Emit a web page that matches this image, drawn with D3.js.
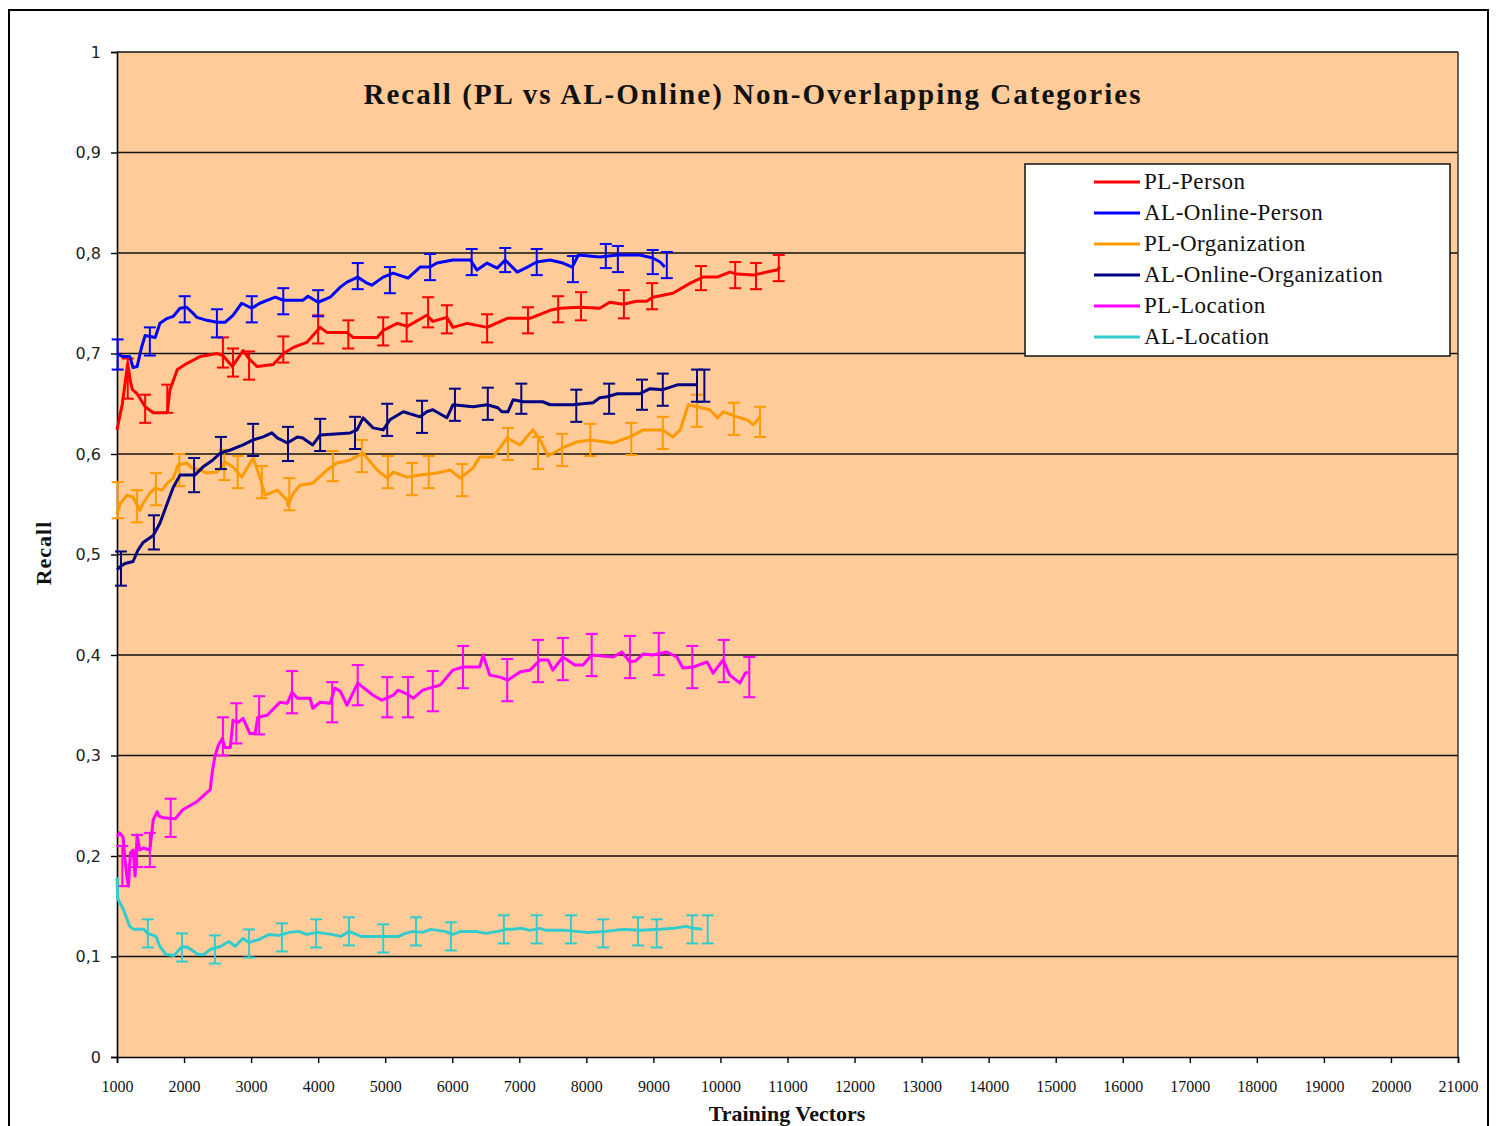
<!DOCTYPE html>
<html lang="en">
<head>
<meta charset="utf-8" />
<title>Recall (PL vs AL-Online) Non-Overlapping Categories</title>
<script src="https://cdn.jsdelivr.net/npm/d3@7"></script>
<style>
  body { margin: 0; background: #fff; }
  svg { display: block; }
  .ytick text { font-family: "DejaVu Sans", sans-serif; font-size: 16px; fill: #222; }
  .xtick text { font-family: "Liberation Serif", serif; font-size: 16px; fill: #111; }
</style>
</head>
<body>
<div id="chart"></div>
<script>
// tick values
var xTicks = d3.range(1000, 21001, 1000);
var yTicks = [0, 0.1, 0.2, 0.3, 0.4, 0.5, 0.6, 0.7, 0.8, 0.9, 1];

var seriesNames = ["PL-Person", "AL-Online-Person", "PL-Organization",
                   "AL-Online-Organization", "PL-Location", "AL-Location"];

// [training vectors, recall]
var plPerson = [[1000,0.624],[1080,0.650],[1160,0.690],[1200,0.672],[1230,0.664],[1300,0.660],[1420,0.647],[1540,0.641],[1750,0.641],[1790,0.664],[1900,0.684],[2040,0.690],[2240,0.697],[2490,0.700],[2580,0.698],[2720,0.687],[2880,0.703],[2980,0.694],[3090,0.687],[3330,0.689],[3480,0.700],[3630,0.706],[3830,0.711],[4030,0.726],[4130,0.721],[4430,0.721],[4520,0.716],[4880,0.716],[4970,0.723],[5180,0.730],[5330,0.727],[5620,0.738],[5710,0.732],[5920,0.736],[6010,0.726],[6220,0.730],[6520,0.726],[6820,0.735],[7160,0.735],[7460,0.743],[7610,0.745],[7900,0.746],[8200,0.745],[8350,0.751],[8550,0.749],[8750,0.752],[8900,0.752],[8990,0.756],[9290,0.760],[9550,0.770],[9740,0.776],[9950,0.776],[10140,0.781],[10250,0.779],[10490,0.778],[10690,0.781],[10840,0.783],[10890,0.786]];

var alPerson = [[1000,0.700],[1080,0.697],[1190,0.697],[1240,0.686],[1300,0.687],[1370,0.707],[1420,0.718],[1570,0.716],[1640,0.730],[1750,0.735],[1840,0.737],[1940,0.745],[2040,0.746],[2120,0.741],[2190,0.736],[2340,0.733],[2490,0.731],[2610,0.731],[2730,0.738],[2860,0.750],[3010,0.745],[3130,0.750],[3360,0.756],[3480,0.753],[3770,0.753],[3850,0.757],[4000,0.751],[4180,0.756],[4330,0.766],[4430,0.771],[4590,0.776],[4730,0.770],[4800,0.768],[4970,0.776],[5120,0.780],[5340,0.775],[5520,0.786],[5670,0.786],[5770,0.790],[6010,0.793],[6270,0.793],[6370,0.783],[6520,0.790],[6670,0.785],[6790,0.793],[6970,0.781],[7120,0.786],[7260,0.791],[7460,0.793],[7650,0.790],[7790,0.786],[7880,0.798],[8200,0.796],[8460,0.798],[8800,0.798],[8990,0.795],[9100,0.791],[9170,0.786]];

var plOrg = [[1000,0.541],[1050,0.551],[1150,0.559],[1240,0.557],[1340,0.544],[1390,0.551],[1490,0.561],[1570,0.566],[1670,0.564],[1750,0.571],[1840,0.576],[1910,0.589],[2040,0.591],[2120,0.586],[2240,0.584],[2340,0.581],[2490,0.582],[2610,0.592],[2730,0.587],[2860,0.577],[3030,0.596],[3130,0.577],[3210,0.559],[3390,0.564],[3540,0.554],[3550,0.549],[3630,0.561],[3730,0.569],[3920,0.571],[4130,0.584],[4280,0.591],[4480,0.594],[4670,0.601],[4880,0.584],[5030,0.576],[5120,0.582],[5330,0.577],[5520,0.579],[5770,0.581],[5970,0.584],[6120,0.576],[6310,0.586],[6410,0.597],[6610,0.597],[6820,0.616],[7010,0.609],[7200,0.624],[7310,0.614],[7430,0.598],[7640,0.606],[7860,0.612],[8060,0.614],[8400,0.611],[8650,0.617],[8850,0.624],[9140,0.624],[9290,0.617],[9400,0.624],[9520,0.649],[9650,0.647],[9840,0.644],[9960,0.636],[10040,0.642],[10250,0.637],[10400,0.634],[10490,0.629],[10590,0.637]];

var alOrg = [[1000,0.485],[1050,0.488],[1120,0.491],[1240,0.493],[1310,0.504],[1390,0.512],[1540,0.519],[1640,0.531],[1750,0.551],[1840,0.567],[1940,0.579],[2160,0.579],[2280,0.587],[2430,0.594],[2540,0.601],[2690,0.604],[2880,0.609],[3030,0.614],[3180,0.617],[3310,0.621],[3390,0.616],[3540,0.611],[3690,0.617],[3770,0.616],[3920,0.609],[4030,0.619],[4480,0.621],[4580,0.624],[4670,0.636],[4820,0.626],[4970,0.624],[5070,0.634],[5270,0.642],[5520,0.637],[5620,0.642],[5710,0.644],[5920,0.636],[6010,0.649],[6310,0.647],[6520,0.649],[6680,0.646],[6740,0.642],[6830,0.642],[6910,0.654],[7060,0.652],[7350,0.652],[7460,0.649],[7800,0.649],[8100,0.651],[8200,0.656],[8310,0.657],[8460,0.660],[8800,0.660],[8950,0.665],[9140,0.664],[9370,0.669],[9650,0.669]];

var plLoc = [[1000,0.219],[1040,0.223],[1090,0.219],[1120,0.196],[1150,0.178],[1170,0.170],[1200,0.203],[1240,0.206],[1270,0.180],[1300,0.221],[1340,0.206],[1390,0.208],[1490,0.206],[1540,0.236],[1600,0.244],[1620,0.240],[1690,0.238],[1870,0.237],[1980,0.246],[2190,0.254],[2340,0.263],[2390,0.266],[2420,0.283],[2460,0.299],[2510,0.310],[2570,0.317],[2610,0.308],[2690,0.308],[2730,0.335],[2810,0.333],[2880,0.337],[2980,0.322],[3060,0.322],[3100,0.338],[3240,0.340],[3430,0.353],[3540,0.352],[3610,0.363],[3690,0.357],[3880,0.357],[3920,0.347],[4030,0.353],[4180,0.352],[4250,0.367],[4330,0.364],[4430,0.350],[4590,0.372],[4820,0.360],[4950,0.355],[5120,0.360],[5190,0.365],[5330,0.361],[5420,0.357],[5560,0.365],[5710,0.368],[5820,0.370],[6010,0.385],[6160,0.388],[6410,0.388],[6460,0.400],[6560,0.380],[6710,0.378],[6830,0.375],[7010,0.383],[7160,0.385],[7310,0.395],[7430,0.395],[7500,0.385],[7650,0.398],[7830,0.390],[7950,0.390],[8080,0.400],[8400,0.398],[8530,0.403],[8650,0.393],[8730,0.394],[8850,0.401],[8990,0.400],[9200,0.403],[9350,0.398],[9440,0.387],[9590,0.388],[9800,0.393],[9890,0.382],[10040,0.395],[10140,0.380],[10290,0.372],[10370,0.382],[10410,0.383]];

var alLoc = [[1000,0.179],[1010,0.158],[1100,0.146],[1190,0.130],[1250,0.127],[1400,0.127],[1460,0.123],[1580,0.120],[1640,0.110],[1730,0.102],[1850,0.101],[1970,0.110],[2060,0.109],[2210,0.102],[2300,0.102],[2390,0.107],[2540,0.110],[2670,0.115],[2760,0.110],[2880,0.118],[2970,0.114],[3120,0.117],[3270,0.122],[3420,0.121],[3570,0.124],[3710,0.125],[3830,0.122],[4000,0.124],[4200,0.122],[4340,0.120],[4460,0.125],[4640,0.120],[5000,0.120],[5200,0.120],[5300,0.123],[5420,0.125],[5550,0.124],[5680,0.127],[5890,0.125],[6010,0.122],[6130,0.125],[6350,0.125],[6500,0.123],[6680,0.125],[6800,0.127],[6900,0.127],[7040,0.128],[7150,0.126],[7310,0.128],[7400,0.126],[7700,0.126],[8000,0.124],[8300,0.125],[8530,0.127],[8800,0.126],[9100,0.127],[9300,0.128],[9490,0.130],[9600,0.128],[9730,0.127]];

// error bars: [training vectors, centre, half width]
var plPersonErr = [[1160,0.675,0.020],[1420,0.645,0.014],[1750,0.655,0.014],[2580,0.701,0.015],[2730,0.691,0.014],[2970,0.688,0.014],[3480,0.704,0.013],[4000,0.724,0.014],[4450,0.719,0.014],[4970,0.722,0.014],[5320,0.726,0.014],[5640,0.741,0.015],[5920,0.734,0.014],[6520,0.725,0.014],[7130,0.733,0.013],[7580,0.744,0.013],[7920,0.747,0.014],[8560,0.749,0.014],[8980,0.757,0.013],[9710,0.775,0.012],[10220,0.778,0.013],[10530,0.777,0.013],[10870,0.785,0.013]];

var alPersonErr = [[1010,0.699,0.015],[1490,0.712,0.014],[2010,0.744,0.013],[2490,0.730,0.014],[3010,0.744,0.013],[3480,0.752,0.013],[4000,0.750,0.013],[4590,0.777,0.013],[5070,0.773,0.013],[5670,0.786,0.013],[6290,0.791,0.013],[6790,0.793,0.012],[7260,0.791,0.013],[7800,0.784,0.013],[8290,0.797,0.012],[8470,0.794,0.013],[8990,0.791,0.012],[9200,0.788,0.013]];

var plOrgErr = [[1010,0.554,0.018],[1300,0.548,0.016],[1580,0.565,0.016],[1930,0.584,0.016],[2600,0.589,0.015],[2800,0.582,0.016],[3160,0.572,0.016],[3570,0.560,0.016],[4220,0.588,0.015],[4650,0.598,0.016],[5040,0.582,0.016],[5400,0.575,0.016],[5650,0.582,0.016],[6150,0.574,0.016],[6830,0.610,0.016],[7280,0.601,0.016],[7640,0.604,0.016],[8060,0.614,0.016],[8670,0.615,0.016],[9140,0.621,0.016],[9650,0.643,0.016],[10200,0.635,0.016],[10590,0.632,0.015]];

var alOrgErr = [[1060,0.486,0.017],[1550,0.522,0.017],[2150,0.579,0.017],[2550,0.601,0.016],[3030,0.614,0.016],[3550,0.610,0.017],[4030,0.619,0.016],[4550,0.621,0.016],[5030,0.634,0.016],[5550,0.637,0.016],[6040,0.649,0.016],[6530,0.650,0.016],[7030,0.655,0.015],[7850,0.648,0.016],[8340,0.655,0.015],[8830,0.659,0.015],[9140,0.664,0.016],[9650,0.668,0.016],[9760,0.668,0.016]];

var plLocErr = [[1080,0.190,0.020],[1300,0.205,0.016],[1490,0.206,0.017],[1800,0.238,0.019],[2580,0.319,0.019],[2780,0.332,0.020],[3120,0.340,0.019],[3610,0.363,0.021],[4210,0.353,0.020],[4590,0.370,0.020],[5030,0.358,0.020],[5340,0.358,0.020],[5710,0.364,0.020],[6160,0.388,0.021],[6820,0.375,0.021],[7280,0.394,0.021],[7650,0.396,0.021],[8080,0.400,0.021],[8650,0.398,0.021],[9080,0.401,0.021],[9580,0.388,0.021],[10050,0.394,0.021],[10430,0.378,0.020]];

var alLocErr = [[1460,0.123,0.014],[1970,0.109,0.014],[2460,0.107,0.014],[2970,0.113,0.014],[3460,0.119,0.014],[3970,0.123,0.014],[4460,0.125,0.014],[4970,0.118,0.014],[5460,0.125,0.014],[5980,0.120,0.014],[6770,0.127,0.014],[7260,0.127,0.014],[7770,0.127,0.014],[8250,0.123,0.014],[8770,0.125,0.014],[9050,0.123,0.014],[9580,0.127,0.014],[9810,0.127,0.014]];

var colors = ["#ff0000", "#0000ff", "#ff9900", "#000080", "#ff00ff", "#33cccc"];
var lines = [plPerson, alPerson, plOrg, alOrg, plLoc, alLoc];
var errs = [plPersonErr, alPersonErr, plOrgErr, alOrgErr, plLocErr, alLocErr];

var width = 1498, height = 1126;
var margin = { top: 52, left: 117, right: 40, bottom: 69 };
var plotW = width - margin.left - margin.right;
var plotH = height - margin.top - margin.bottom;

var svg = d3.select("#chart").append("svg")
    .attr("width", width)
    .attr("height", height);

// outer frame
svg.append("rect")
    .attr("x", 9).attr("y", 10)
    .attr("width", 1479).attr("height", 1140)
    .attr("fill", "none").attr("stroke", "#000").attr("stroke-width", 2);

var g = svg.append("g").attr("transform", "translate(" + margin.left + "," + margin.top + ")");

var x = d3.scaleLinear().domain([1000, 21000]).range([0, plotW]);
var y = d3.scaleLinear().domain([0, 1]).range([plotH, 0]);

g.append("rect")
    .attr("width", plotW).attr("height", plotH)
    .attr("fill", "#ffcc99");

// horizontal grid lines
g.selectAll(".grid").data(yTicks.slice(1))
    .enter().append("line")
    .attr("x1", 0).attr("x2", plotW)
    .attr("y1", d => y(d)).attr("y2", d => y(d))
    .attr("stroke", "#111").attr("stroke-width", 1.6);

// right border of plot
g.append("line")
    .attr("x1", plotW).attr("x2", plotW)
    .attr("y1", 0).attr("y2", plotH)
    .attr("stroke", "#333").attr("stroke-width", 1.5);

// axes
var yAxis = d3.axisLeft(y).tickValues(yTicks).tickSize(6).tickPadding(10)
    .tickFormat(d => d === 0 ? "0" : d === 1 ? "1" : d.toFixed(1).replace(".", ","));
var xAxis = d3.axisBottom(x).tickValues(xTicks).tickSize(6).tickPadding(18)
    .tickFormat(d => d);

var ya = g.append("g").attr("class", "ytick").call(yAxis);
var xa = g.append("g").attr("class", "xtick")
    .attr("transform", "translate(0," + plotH + ")").call(xAxis);
[ya, xa].forEach(a => {
    a.select(".domain").attr("stroke", "#000").attr("stroke-width", 1.6);
    a.selectAll(".tick line").attr("stroke", "#000").attr("stroke-width", 1.4);
});

// series lines
var line = d3.line().x(d => x(d[0])).y(d => y(d[1]));

lines.forEach(function (data, i) {
    var c = colors[i];
    var eg = g.append("g").attr("stroke", c).attr("stroke-width", 2).attr("fill", "none");
    errs[i].forEach(function (e) {
        var cx = x(e[0]), y1 = y(e[1] + e[2]), y2 = y(e[1] - e[2]);
        eg.append("line").attr("x1", cx).attr("x2", cx).attr("y1", y1).attr("y2", y2);
        eg.append("line").attr("x1", cx - 6).attr("x2", cx + 6).attr("y1", y1).attr("y2", y1);
        eg.append("line").attr("x1", cx - 6).attr("x2", cx + 6).attr("y1", y2).attr("y2", y2);
    });
    g.append("path")
        .datum(data)
        .attr("d", line)
        .attr("fill", "none")
        .attr("stroke", c)
        .attr("stroke-width", 3)
        .attr("stroke-linejoin", "round");
});

// title
svg.append("text")
    .attr("x", 752).attr("y", 104)
    .attr("text-anchor", "middle")
    .attr("font-family", "Liberation Serif, serif")
    .attr("font-weight", "bold")
    .attr("font-size", 29)
    .attr("textLength", 777).attr("lengthAdjust", "spacing")
    .attr("fill", "#111")
    .text("Recall (PL vs AL-Online) Non-Overlapping Categories");

// axis titles
svg.append("text")
    .attr("transform", "translate(51,553) rotate(-90)")
    .attr("text-anchor", "middle")
    .attr("font-family", "Liberation Serif, serif")
    .attr("font-weight", "bold")
    .attr("font-size", 22)
    .attr("letter-spacing", 1)
    .attr("fill", "#111")
    .text("Recall");

svg.append("text")
    .attr("x", 787).attr("y", 1121)
    .attr("text-anchor", "middle")
    .attr("font-family", "Liberation Serif, serif")
    .attr("font-weight", "bold")
    .attr("font-size", 22)
    .attr("fill", "#111")
    .text("Training Vectors");

// legend
var lg = svg.append("g").attr("transform", "translate(1025,164)");
lg.append("rect")
    .attr("width", 425).attr("height", 192)
    .attr("fill", "#fff").attr("stroke", "#111").attr("stroke-width", 1.5);
seriesNames.forEach(function (name, i) {
    var ly = 18 + i * 31;
    lg.append("line")
        .attr("x1", 69).attr("x2", 115).attr("y1", ly).attr("y2", ly)
        .attr("stroke", colors[i]).attr("stroke-width", 3);
    lg.append("text")
        .attr("x", 119).attr("y", ly + 7)
        .attr("font-family", "Liberation Serif, serif")
        .attr("font-size", 23)
        .attr("letter-spacing", 0.5)
        .attr("fill", "#111")
        .text(name);
});
</script>
</body>
</html>
